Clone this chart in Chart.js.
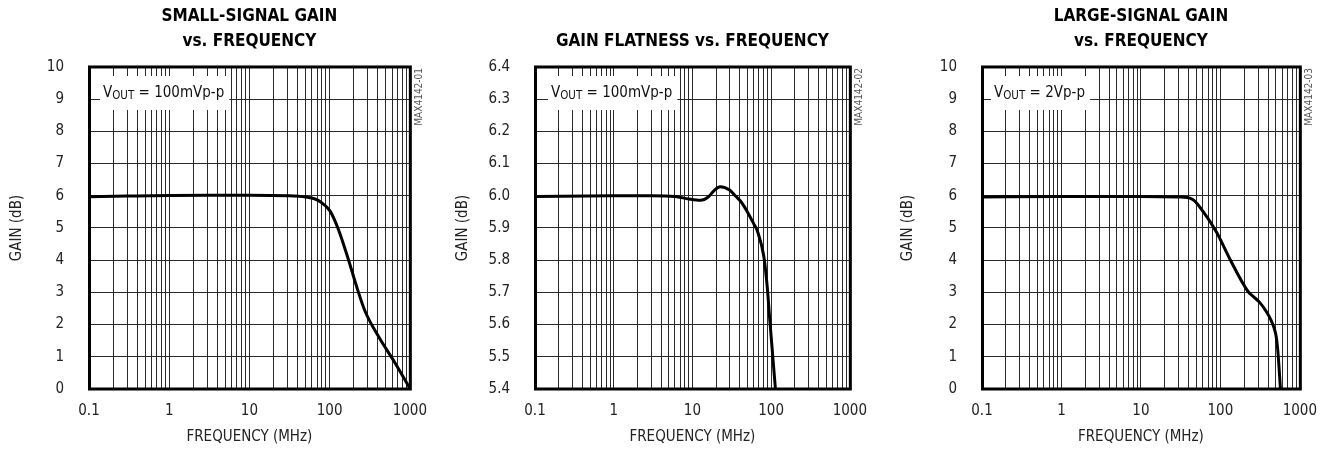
<!DOCTYPE html>
<html>
<head>
<meta charset="utf-8">
<script src="https://cdn.jsdelivr.net/npm/chart.js@4.4.1/dist/chart.umd.min.js"></script>
<style>
  html, body { margin: 0; padding: 0; background: #fff; }
  body { width: 1330px; height: 449px; position: relative; overflow: hidden; }
  .panel { position: absolute; top: 0; height: 449px; }
</style>
</head>
<body>
<div class="panel" style="left:0;width:440px"><canvas id="c1"></canvas></div>
<div class="panel" style="left:440px;width:440px"><canvas id="c2"></canvas></div>
<div class="panel" style="left:880px;width:450px"><canvas id="c3"></canvas></div>
<script>
/* global Chart */

const FONT = "'DejaVu Sans Condensed', 'Liberation Sans Narrow', sans-serif";
const INK = '#222';

// frequency axis (MHz), log grid
const freqTicks = [0.1, 1, 10, 100, 1000];
const freqMinor = [2, 3, 4, 5, 6, 7, 8, 9];

// gain axes
const gainTicks = [0, 1, 2, 3, 4, 5, 6, 7, 8, 9, 10];
const gainLabels = ['0', '1', '2', '3', '4', '5', '6', '7', '8', '9', '10'];
const flatTicks = [5.4, 5.5, 5.6, 5.7, 5.8, 5.9, 6.0, 6.1, 6.2, 6.3, 6.4];
const flatLabels = ['5.4', '5.5', '5.6', '5.7', '5.8', '5.9', '6.0', '6.1', '6.2', '6.3', '6.4'];

// small-signal gain, VOUT = 100mVp-p
const ssFreq = [0.1, 0.3, 1, 3, 10, 30, 50, 66, 80, 101, 128, 171, 216, 275, 402, 646, 1000];
const ssGain = [5.97, 5.99, 6.01, 6.02, 6.02, 6.0, 5.96, 5.9, 5.78, 5.53, 4.97, 4.03, 3.2, 2.43, 1.65, 0.83, 0.02];

// gain flatness, VOUT = 100mVp-p
const gfFreq = [0.1, 1, 3, 6, 9, 12.7, 16, 19, 22.5, 30, 35, 41, 50, 61, 67, 81, 89, 96.5, 105, 113.5];
const gfGain = [5.998, 6.0, 6.0, 5.998, 5.99, 5.986, 5.997, 6.017, 6.028, 6.017, 6.0, 5.983, 5.95, 5.91, 5.89, 5.81, 5.72, 5.61, 5.5, 5.4];

// large-signal gain, VOUT = 2Vp-p
const lsFreq = [0.1, 1, 10, 30, 44, 62, 90, 132, 224, 260, 312, 380, 432, 475, 502, 523, 547, 569];
const lsGain = [5.96, 5.98, 5.98, 5.96, 5.9, 5.48, 4.86, 4.03, 3.02, 2.87, 2.69, 2.4, 2.15, 1.89, 1.65, 1.31, 0.69, 0.02];

const gridValues = [];
freqTicks.slice(0, -1).forEach(d => {
  gridValues.push(d);
  freqMinor.forEach(m => gridValues.push(d * m));
});
gridValues.push(freqTicks[freqTicks.length - 1]);

const decor = {
  id: 'decor',
  beforeDatasetsDraw(chart, args, o) {
    const {ctx, chartArea: a} = chart;
    const x = a.left + o.noteX;
    const y = a.top + 30;
    ctx.save();
    ctx.font = `15px ${FONT}`;
    const w1 = ctx.measureText('V').width;
    const w3 = ctx.measureText(o.note).width;
    ctx.font = `11.5px ${FONT}`;
    const w2 = ctx.measureText('OUT').width;
    ctx.fillStyle = '#fff';
    ctx.fillRect(x - 3, a.top + 9, w1 + w2 + w3 + 8, 34);
    ctx.fillStyle = '#111';
    ctx.textBaseline = 'alphabetic';
    ctx.textAlign = 'left';
    ctx.fillText('OUT', x + w1, y + 2);
    ctx.font = `15px ${FONT}`;
    ctx.fillText('V', x, y);
    ctx.fillText(o.note, x + w1 + w2, y);
    ctx.restore();
  },
  afterDraw(chart, args, o) {
    const {ctx, chartArea: a} = chart;
    ctx.save();
    ctx.strokeStyle = '#000';
    ctx.lineWidth = 3;
    ctx.strokeRect(a.left + 0.5, a.top, a.width, a.height);
    ctx.translate(a.right + 10, a.top + 1);
    ctx.rotate(-Math.PI / 2);
    ctx.font = `10px ${FONT}`;
    ctx.fillStyle = '#555';
    ctx.textAlign = 'right';
    ctx.textBaseline = 'middle';
    ctx.fillText(o.code, 0, 0);
    ctx.restore();
  }
};

const make = (id, cfg) => new Chart(document.getElementById(id), {
  type: 'line',
  data: {
    datasets: [{
      data: cfg.freq.map((f, i) => ({x: f, y: cfg.gain[i]})),
      borderColor: '#000',
      borderWidth: 3,
      pointRadius: 0,
      cubicInterpolationMode: 'monotone',
      fill: false
    }]
  },
  options: {
    responsive: true,
    maintainAspectRatio: false,
    animation: false,
    layout: {padding: {left: 0, right: cfg.right, top: 0, bottom: 0}},
    plugins: {
      legend: {display: false},
      tooltip: {enabled: false},
      title: {
        display: true,
        text: cfg.title,
        fullSize: false,
        color: '#000',
        font: {family: FONT, size: 17, weight: 'bold', lineHeight: 1.47},
        padding: {top: cfg.title.length > 1 ? 4.5 : 29.5, bottom: 12.5}
      },
      decor: {note: cfg.note, noteX: cfg.noteX, code: cfg.code}
    },
    scales: {
      x: {
        type: 'logarithmic',
        min: 0.1,
        max: 1000,
        afterBuildTicks: s => { s.ticks = gridValues.map(v => ({value: v})); },
        afterFit: s => { s.height = 60; },
        ticks: {
          autoSkip: false,
          maxRotation: 0,
          padding: 13,
          color: INK,
          font: {family: FONT, size: 15},
          callback: v => (freqTicks.includes(v) ? String(v) : '')
        },
        grid: {color: '#2a2a2a', lineWidth: 1, drawTicks: false},
        border: {display: false},
        title: {
          display: true,
          text: 'FREQUENCY (MHz)',
          color: INK,
          font: {family: FONT, size: 15},
          padding: {top: 0, bottom: 3}
        }
      },
      y: {
        min: cfg.yTicks[0],
        max: cfg.yTicks[cfg.yTicks.length - 1],
        afterBuildTicks: s => { s.ticks = cfg.yTicks.map(v => ({value: v})); },
        afterFit: s => { s.width = cfg.yWidth; },
        ticks: {
          padding: 25,
          color: INK,
          font: {family: FONT, size: 15},
          callback: (v, i) => cfg.yLabels[i]
        },
        grid: {color: '#2a2a2a', lineWidth: 1, drawTicks: false},
        border: {display: false},
        title: {
          display: true,
          text: 'GAIN (dB)',
          color: INK,
          font: {family: FONT, size: 15},
          padding: {top: cfg.yTitlePad, bottom: 0}
        }
      }
    }
  },
  plugins: [decor]
});

make('c1', {
  freq: ssFreq, gain: ssGain,
  title: ['SMALL-SIGNAL GAIN', 'vs. FREQUENCY'],
  yTicks: gainTicks, yLabels: gainLabels,
  yWidth: 89, right: 28, yTitlePad: 8,
  note: ' = 100mVp-p', noteX: 14, code: 'MAX4142-01'
});

make('c2', {
  freq: gfFreq, gain: gfGain,
  title: ['GAIN FLATNESS vs. FREQUENCY'],
  yTicks: flatTicks, yLabels: flatLabels,
  yWidth: 95, right: 22, yTitlePad: 14,
  note: ' = 100mVp-p', noteX: 16, code: 'MAX4142-02'
});

make('c3', {
  freq: lsFreq, gain: lsGain,
  title: ['LARGE-SIGNAL GAIN', 'vs. FREQUENCY'],
  yTicks: gainTicks, yLabels: gainLabels,
  yWidth: 102, right: 26, yTitlePad: 19,
  note: ' = 2Vp-p', noteX: 12, code: 'MAX4142-03'
});
</script>
</body>
</html>
